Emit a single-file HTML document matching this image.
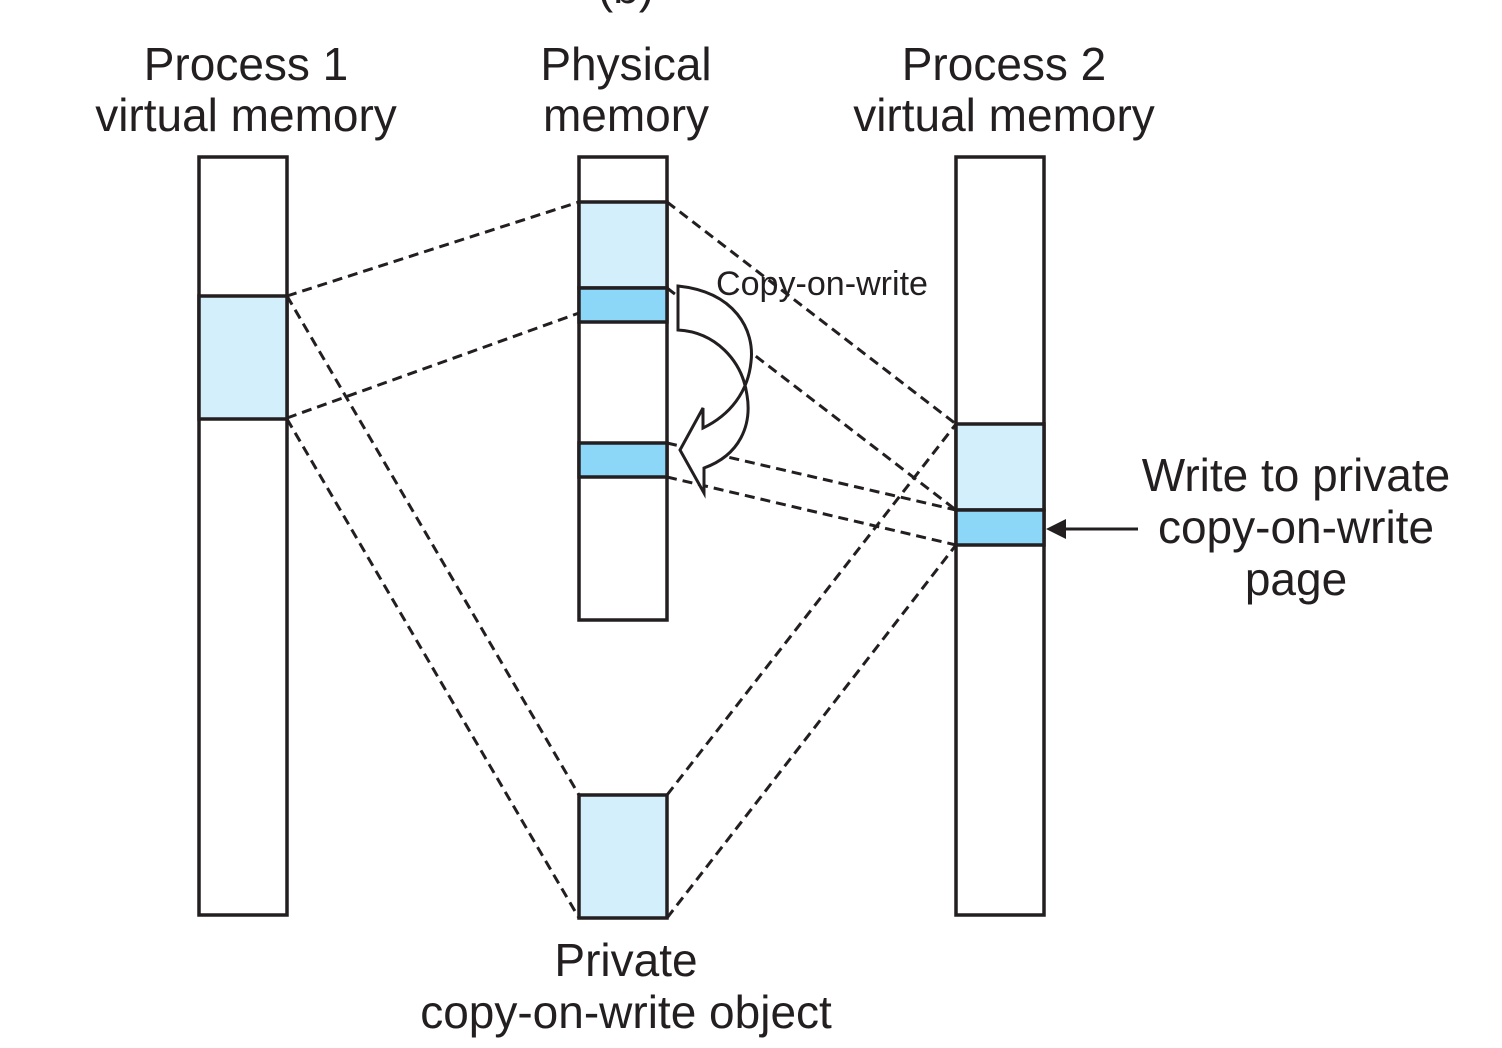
<!DOCTYPE html>
<html><head><meta charset="utf-8"><style>
html,body{margin:0;padding:0;background:#fff;}
svg{display:block;}
text{font-family:"Liberation Sans",sans-serif;fill:#231f20;}
</style></head><body>
<svg width="1502" height="1048" viewBox="0 0 1502 1048" xmlns="http://www.w3.org/2000/svg">
<g stroke="#231f20" stroke-width="3" fill="none" stroke-dasharray="10,6">
<line x1="287" y1="296" x2="579" y2="202"/>
<line x1="287" y1="418" x2="579" y2="313"/>
<line x1="287" y1="296" x2="579" y2="795"/>
<line x1="287" y1="419" x2="579" y2="918"/>
<line x1="667" y1="202" x2="956" y2="424"/>
<line x1="667" y1="288" x2="956" y2="510"/>
<line x1="667" y1="443" x2="956" y2="510"/>
<line x1="667" y1="477" x2="956" y2="545"/>
<line x1="667" y1="795" x2="956" y2="424"/>
<line x1="667" y1="918" x2="956" y2="545"/>
</g>
<g stroke="#231f20" stroke-width="3.5">
<rect x="199" y="157" width="88" height="758" fill="#fff"/>
<rect x="199" y="296" width="88" height="123" fill="#d4effc"/>
<rect x="579" y="157" width="88" height="463" fill="#fff"/>
<rect x="579" y="202" width="88" height="86" fill="#d4effc"/>
<rect x="579" y="288" width="88" height="34" fill="#8cd7f7"/>
<rect x="579" y="443" width="88" height="34" fill="#8cd7f7"/>
<rect x="579" y="795" width="88" height="123" fill="#d4effc"/>
<rect x="956" y="157" width="88" height="758" fill="#fff"/>
<rect x="956" y="424" width="88" height="86" fill="#d4effc"/>
<rect x="956" y="510" width="88" height="35" fill="#8cd7f7"/>
</g>
<path d="M678,286 C735,292 755,330 751,362 C748,392 730,415 703,428 L703,408 L680,450 L704,493 L704,468 C740,455 752,425 747,395 C742,360 715,332 678,330 Z" fill="#fff" stroke="#231f20" stroke-width="3" stroke-linejoin="miter"/>
<line x1="1138" y1="529" x2="1062" y2="529" stroke="#231f20" stroke-width="3"/>
<polygon points="1046,529 1066,519 1066,539" fill="#231f20"/>
<g font-size="46" text-anchor="middle">
<text x="626" y="3">(b)</text>
<text x="246" y="80">Process 1</text>
<text x="246" y="131">virtual memory</text>
<text x="626" y="80">Physical</text>
<text x="626" y="131">memory</text>
<text x="1004" y="80">Process 2</text>
<text x="1004" y="131">virtual memory</text>
<text x="1296" y="491">Write to private</text>
<text x="1296" y="543">copy-on-write</text>
<text x="1296" y="595">page</text>
<text x="626" y="976">Private</text>
<text x="626" y="1028">copy-on-write object</text>
</g>
<text x="716" y="295" font-size="34" textLength="212" lengthAdjust="spacingAndGlyphs">Copy-on-write</text>
</svg>
</body></html>
